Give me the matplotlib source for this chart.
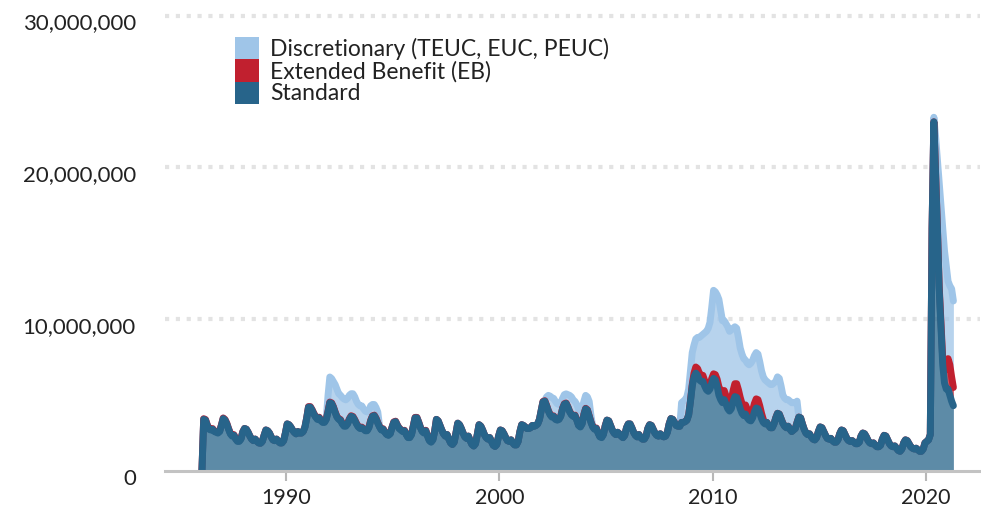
import numpy as np
import matplotlib
matplotlib.use("Agg")
import matplotlib.pyplot as plt
from matplotlib.patches import Rectangle
import matplotlib.transforms as mtransforms

# Monthly continued claims (millions), Jan 1986 .. Apr 2021
standard = [
    0, 3.4, 3.35, 3.0, 2.75, 2.7, 2.75, 2.6, 2.55, 2.5, 2.6, 3.0,          # 1986
    3.45, 3.35, 3.1, 2.75, 2.45, 2.3, 2.35, 2.1, 1.95, 1.95, 2.1, 2.55,     # 1987
    2.8, 2.75, 2.55, 2.3, 2.1, 2.0, 2.1, 1.95, 1.85, 1.83, 1.95, 2.35,      # 1988
    2.7, 2.65, 2.5, 2.25, 2.05, 2.0, 2.1, 1.95, 1.85, 1.85, 2.0, 2.5,       # 1989
    3.1, 3.05, 2.9, 2.7, 2.55, 2.45, 2.6, 2.5, 2.5, 2.6, 2.9, 3.5,          # 1990
    4.2, 4.2, 4.0, 3.75, 3.55, 3.4, 3.5, 3.3, 3.2, 3.2, 3.4, 3.9,           # 1991
    4.5, 4.45, 4.2, 3.85, 3.55, 3.4, 3.35, 3.1, 2.95, 2.95, 3.1, 3.4,       # 1992
    3.6, 3.55, 3.35, 3.1, 2.9, 2.8, 2.85, 2.75, 2.65, 2.65, 2.85, 3.3,      # 1993
    3.6, 3.65, 3.45, 3.15, 2.9, 2.7, 2.75, 2.55, 2.4, 2.35, 2.45, 2.85,     # 1994
    3.2, 3.25, 3.0, 2.8, 2.7, 2.6, 2.65, 2.4, 2.2, 2.2, 2.4, 2.95,          # 1995
    3.5, 3.5, 3.2, 2.85, 2.6, 2.5, 2.65, 2.3, 2.0, 1.9, 2.05, 2.6,          # 1996
    3.4, 3.3, 3.0, 2.7, 2.45, 2.3, 2.4, 2.1, 1.85, 1.75, 1.9, 2.5,          # 1997
    3.15, 3.05, 2.8, 2.5, 2.25, 2.15, 2.3, 2.0, 1.75, 1.65, 1.8, 2.4,       # 1998
    3.05, 2.95, 2.7, 2.4, 2.2, 2.1, 2.2, 1.95, 1.7, 1.62, 1.75, 2.3,        # 1999
    2.7, 2.65, 2.45, 2.2, 2.0, 1.95, 2.05, 1.85, 1.72, 1.72, 1.95, 2.6,     # 2000
    3.05, 3.0, 2.9, 2.8, 2.8, 2.85, 3.0, 2.95, 3.0, 3.1, 3.4, 4.0,          # 2001
    4.55, 4.6, 4.3, 3.95, 3.7, 3.55, 3.6, 3.4, 3.35, 3.4, 3.6, 4.1,         # 2002
    4.4, 4.45, 4.2, 3.9, 3.7, 3.6, 3.65, 3.35, 3.0, 2.9, 3.1, 3.7,          # 2003
    4.1, 4.0, 3.6, 3.2, 2.9, 2.75, 2.8, 2.5, 2.25, 2.2, 2.4, 2.95,          # 2004
    3.35, 3.3, 3.0, 2.7, 2.5, 2.4, 2.55, 2.45, 2.3, 2.2, 2.35, 2.85,        # 2005
    3.1, 3.1, 2.85, 2.55, 2.35, 2.25, 2.4, 2.2, 2.1, 2.1, 2.3, 2.8,         # 2006
    3.05, 3.0, 2.75, 2.5, 2.35, 2.3, 2.45, 2.3, 2.25, 2.3, 2.55, 3.1,       # 2007
    3.45, 3.4, 3.2, 3.0, 2.95, 2.95, 3.2, 3.2, 3.25, 3.35, 3.7, 4.6,        # 2008
    5.6, 6.2, 6.45, 6.3, 6.0, 5.9, 5.9, 5.6, 5.35, 5.25, 5.4, 5.8,          # 2009
    6.1, 6.0, 5.6, 5.0, 4.7, 4.5, 4.7, 4.4, 4.1, 3.95, 4.1, 4.6,            # 2010
    4.9, 4.85, 4.5, 4.1, 3.8, 3.65, 3.75, 3.5, 3.35, 3.3, 3.5, 3.9,         # 2011
    4.15, 4.1, 3.8, 3.45, 3.2, 3.1, 3.2, 3.0, 2.85, 2.85, 3.1, 3.5,         # 2012
    3.8, 3.75, 3.45, 3.15, 2.95, 2.85, 2.95, 2.75, 2.6, 2.7, 2.8, 3.2,      # 2013
    3.55, 3.5, 3.1, 2.75, 2.5, 2.4, 2.45, 2.25, 2.1, 2.05, 2.2, 2.6,        # 2014
    2.9, 2.85, 2.6, 2.35, 2.15, 2.1, 2.15, 2.0, 1.9, 1.9, 2.05, 2.45,       # 2015
    2.7, 2.65, 2.4, 2.15, 2.0, 1.95, 2.0, 1.9, 1.8, 1.8, 1.9, 2.3,          # 2016
    2.5, 2.45, 2.25, 2.0, 1.85, 1.8, 1.85, 1.7, 1.6, 1.6, 1.7, 2.1,         # 2017
    2.35, 2.3, 2.05, 1.8, 1.65, 1.6, 1.65, 1.5, 1.35, 1.3, 1.45, 1.85,      # 2018
    2.05, 2.0, 1.8, 1.6, 1.5, 1.45, 1.5, 1.4, 1.3, 1.3, 1.45, 1.85,         # 2019
    1.95, 2.05, 2.4, 16.0, 23.0, 19.5, 16.0, 12.0, 9.5, 7.0, 5.8, 5.4,      # 2020
    5.4, 5.0, 4.6, 4.3,                                                     # 2021
]

extended_benefit = (
    [0] + [0.04] * 11 + [0.04] * 12            # 1986-1987
    + [0] * 36                                 # 1988-1990
    + [0.04] * 36                              # 1991-1993
    + [0.03] * 36                              # 1994-1996
    + [0] * 60                                 # 1997-2001
    + [0.03] * 36                              # 2002-2004
    + [0] * 48                                 # 2005-2008
    + [0.1, 0.25, 0.4, 0.45, 0.45, 0.4, 0.4, 0.35, 0.3, 0.3, 0.3, 0.3]       # 2009
    + [0.3, 0.35, 0.45, 0.55, 0.6, 0.6, 0.6, 0.55, 0.5, 0.5, 0.55, 0.7]      # 2010
    + [0.85, 0.9, 0.85, 0.75, 0.65, 0.6, 0.6, 0.55, 0.5, 0.5, 0.5, 0.55]     # 2011
    + [0.6, 0.6, 0.5, 0.35, 0.2, 0.05, 0, 0, 0, 0, 0, 0]                     # 2012
    + [0] * 84                                 # 2013-2019
    + [0, 0, 0, 0, 0, 0.05, 0.1, 0.2, 0.3, 0.4, 0.8, 1.4]                    # 2020
    + [2.0, 2.0, 1.6, 1.2]                                                   # 2021
)

discretionary = (
    [0] * 60                                   # 1986-1990
    + [0] * 11 + [1.05]                        # 1991
    + [1.65, 1.6, 1.65, 1.8, 1.8, 1.65, 1.6, 1.7, 1.75, 1.7, 1.65, 1.55]     # 1992
    + [1.45, 1.5, 1.5, 1.45, 1.45, 1.45, 1.4, 1.3, 1.25, 1.2, 1.1, 0.95]     # 1993
    + [0.75, 0.7, 0.7, 0.7] + [0] * 8                                        # 1994
    + [0] * 84                                 # 1995-2001
    + [0, 0, 0.55, 1.0, 1.2, 1.25, 1.15, 1.15, 1.05, 0.95, 0.85, 0.65]       # 2002
    + [0.6, 0.6, 0.8, 1.05, 1.15, 1.05, 0.9, 1.0, 1.05, 1.05, 0.95, 0.85]    # 2003
    + [0.85, 0.85, 0.95, 0.4] + [0] * 8                                      # 2004
    + [0] * 36                                 # 2005-2007
    + [0] * 6 + [1.3, 1.4, 1.45, 1.55, 1.7, 2.0]                             # 2008
    + [2.1, 1.85, 1.85, 2.05, 2.35, 2.6, 2.7, 3.15, 3.55, 3.85, 4.1, 4.7]    # 2009
    + [5.5, 5.45, 5.55, 5.75, 5.3, 4.8, 4.6, 4.75, 4.9, 4.75, 4.65, 4.1]     # 2010
    + [3.75, 3.65, 3.45, 3.25, 3.25, 3.15, 2.95, 3.05, 3.15, 3.3, 3.3, 3.15] # 2011
    + [3.05, 3.0, 2.9, 2.8, 2.8, 2.85, 2.7, 2.8, 2.85, 2.85, 2.7, 2.4]       # 2012
    + [2.4, 2.35, 2.15, 1.85, 1.85, 1.85, 1.75, 1.85, 1.9, 1.8, 1.7, 1.4]    # 2013
    + [0] * 72                                 # 2014-2019
    + [0, 0, 0, 0, 0.3, 2.45, 4.4, 6.8, 7.7, 8.6, 7.9, 6.7]                  # 2020
    + [5.1, 5.2, 5.8, 5.7]                                                   # 2021
)

start_year = 1986
year_ticks = [1990, 2000, 2010, 2020]
y_ticks = [0, 10, 20, 30]  # millions
series_names = ["Discretionary (TEUC, EUC, PEUC)", "Extended Benefit (EB)", "Standard"]

C_STD = "#27648a"
C_EB = "#c1202f"
C_DISC = "#9fc5e8"
TEXT = "#222222"

FONT = ["Lato", "DejaVu Sans"]
plt.rcParams["font.family"] = FONT

std = np.array(standard, dtype=float)
eb = np.array(extended_benefit, dtype=float)
disc = np.array(discretionary, dtype=float)
t = start_year + (np.arange(len(std)) + 0.5) / 12.0
lvl1 = std
lvl2 = std + eb
lvl3 = std + eb + disc

W, H = 981, 512
fig = plt.figure(figsize=(W / 100, H / 100), dpi=100)
ax = fig.add_axes([165 / W, 41 / H, 815 / W, 461.5 / H])

ax.set_xlim(1984.31, 2022.54)
ax.set_ylim(0, 30.4)

LW = 5.0
a = 0.75
ax.fill_between(t, lvl2, lvl3, color=C_DISC, alpha=a, lw=0, zorder=2)
ax.plot(t, lvl3, color=C_DISC, lw=LW, solid_joinstyle="round", solid_capstyle="round", zorder=3)
ax.fill_between(t, lvl1, lvl2, color=C_EB, alpha=a, lw=0, zorder=4)
ax.plot(t, lvl2, color=C_EB, lw=LW, solid_joinstyle="round", solid_capstyle="round", zorder=5)
ax.fill_between(t, 0, lvl1, color=C_STD, alpha=a, lw=0, zorder=6)
ax.plot(t, lvl1, color=C_STD, lw=LW, solid_joinstyle="round", solid_capstyle="round", zorder=7)

# grid
for v in y_ticks[1:]:
    ax.axhline(v, color="#e3e3e3", lw=3.0, linestyle=(0, (1.0, 1.6)),
               dash_capstyle="butt", zorder=1, clip_on=False)
ax.axhline(0, color="#c3c3c3", lw=2.2, zorder=8, clip_on=False)

for s in ax.spines.values():
    s.set_visible(False)

ax.set_yticks(y_ticks)
ax.set_yticklabels([f"{int(v * 1e6):,}" for v in y_ticks])
ax.tick_params(axis="y", length=0, pad=21, labelsize=16, labelcolor=TEXT)
off = mtransforms.ScaledTranslation(0, -4 / 72, fig.dpi_scale_trans)
for lab in ax.get_yticklabels():
    lab.set_transform(lab.get_transform() + off)

ax.set_xticks(year_ticks)
ax.set_xticklabels([str(y) for y in year_ticks])
ax.tick_params(axis="x", length=7.5, width=1.5, color="#b8b8b8", pad=5,
               labelsize=15.5, labelcolor=TEXT)

# legend
colors = [C_DISC, C_EB, C_STD]
sq_x, sq_w, sq_h, top = 235, 24, 22.4, 37
for i, (name, c) in enumerate(zip(series_names, colors)):
    y0 = top + i * sq_h
    fig.patches.append(Rectangle((sq_x / W, 1 - (y0 + sq_h) / H), sq_w / W, sq_h / H,
                                 transform=fig.transFigure, color=c, lw=0))
    fig.text(270 / W, 1 - (y0 + sq_h / 2 + 1) / H, name, fontsize=16.5, color=TEXT,
             va="center", ha="left")

fig.savefig("out.png", dpi=100)
